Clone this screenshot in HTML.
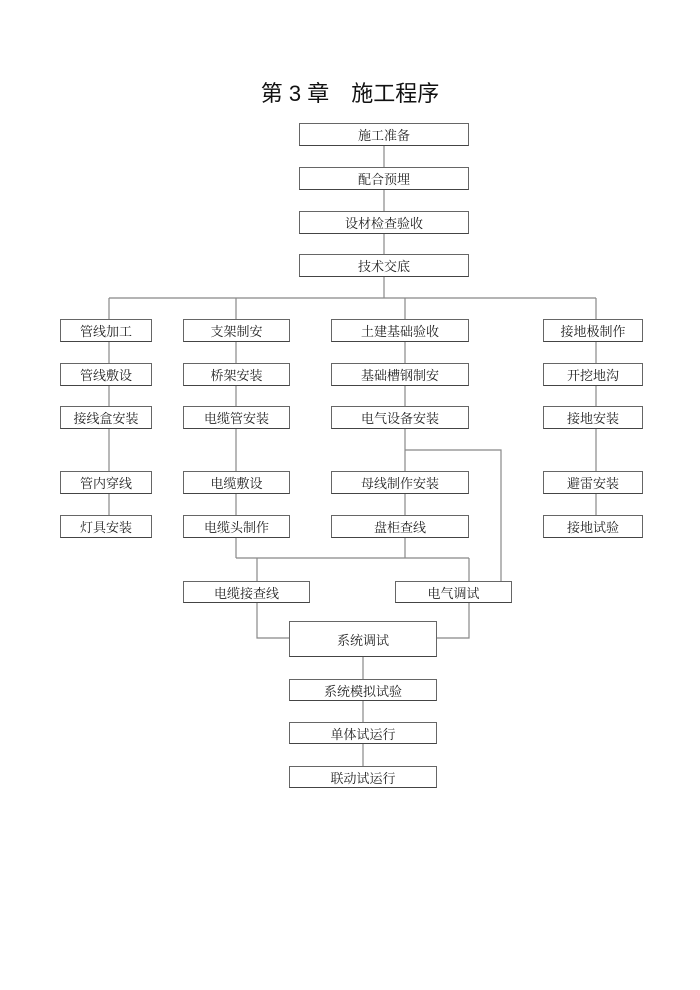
<!DOCTYPE html>
<html><head><meta charset="utf-8"><style>
body{margin:0;background:#fff;width:700px;height:990px;position:relative;font-family:"Liberation Serif","Noto Serif CJK SC",serif;}
.b{position:absolute;box-sizing:border-box;border:1px solid #666;border-bottom:1.5px solid #444;background:#fff;font-size:13px;color:#222;display:flex;align-items:center;justify-content:center;}
svg{position:absolute;left:0;top:0}
.t{position:absolute;left:0;width:700px;top:76px;text-align:center;font-family:"Liberation Sans","Noto Sans CJK SC",sans-serif;font-size:22px;color:#111;}
</style></head><body>
<div class="t">第 3 章　施工程序</div>
<svg width="700" height="990"><g stroke="#888" stroke-width="1.2" fill="none">
<line x1="384" y1="145" x2="384" y2="298"/>
<line x1="109" y1="298" x2="596" y2="298"/>
<line x1="109" y1="298" x2="109" y2="537"/>
<line x1="236" y1="298" x2="236" y2="558"/>
<line x1="405" y1="298" x2="405" y2="558"/>
<line x1="596" y1="298" x2="596" y2="537"/>
<polyline points="405,450 501,450 501,581"/>
<line x1="236" y1="558" x2="469" y2="558"/>
<line x1="257" y1="558" x2="257" y2="581"/>
<line x1="469" y1="558" x2="469" y2="581"/>
<polyline points="257,602 257,638 289,638"/>
<polyline points="469,602 469,638 437,638"/>
<line x1="363" y1="657" x2="363" y2="766"/>
</g></svg>
<div class="b" style="left:299px;top:123px;width:170px;height:23px">施工准备</div>
<div class="b" style="left:299px;top:167px;width:170px;height:23px">配合预埋</div>
<div class="b" style="left:299px;top:211px;width:170px;height:23px">设材检查验收</div>
<div class="b" style="left:299px;top:254px;width:170px;height:23px">技术交底</div>

<div class="b" style="left:60px;top:319px;width:92px;height:23px">管线加工</div>
<div class="b" style="left:60px;top:363px;width:92px;height:23px">管线敷设</div>
<div class="b" style="left:60px;top:406px;width:92px;height:23px">接线盒安装</div>
<div class="b" style="left:60px;top:471px;width:92px;height:23px">管内穿线</div>
<div class="b" style="left:60px;top:515px;width:92px;height:23px">灯具安装</div>

<div class="b" style="left:183px;top:319px;width:107px;height:23px">支架制安</div>
<div class="b" style="left:183px;top:363px;width:107px;height:23px">桥架安装</div>
<div class="b" style="left:183px;top:406px;width:107px;height:23px">电缆管安装</div>
<div class="b" style="left:183px;top:471px;width:107px;height:23px">电缆敷设</div>
<div class="b" style="left:183px;top:515px;width:107px;height:23px">电缆头制作</div>

<div class="b" style="left:331px;top:319px;width:138px;height:23px">土建基础验收</div>
<div class="b" style="left:331px;top:363px;width:138px;height:23px">基础槽钢制安</div>
<div class="b" style="left:331px;top:406px;width:138px;height:23px">电气设备安装</div>
<div class="b" style="left:331px;top:471px;width:138px;height:23px">母线制作安装</div>
<div class="b" style="left:331px;top:515px;width:138px;height:23px">盘柜查线</div>

<div class="b" style="left:543px;top:319px;width:100px;height:23px">接地极制作</div>
<div class="b" style="left:543px;top:363px;width:100px;height:23px">开挖地沟</div>
<div class="b" style="left:543px;top:406px;width:100px;height:23px">接地安装</div>
<div class="b" style="left:543px;top:471px;width:100px;height:23px">避雷安装</div>
<div class="b" style="left:543px;top:515px;width:100px;height:23px">接地试验</div>

<div class="b" style="left:183px;top:581px;width:127px;height:22px">电缆接查线</div>
<div class="b" style="left:395px;top:581px;width:117px;height:22px">电气调试</div>
<div class="b" style="left:289px;top:621px;width:148px;height:36px">系统调试</div>
<div class="b" style="left:289px;top:679px;width:148px;height:22px">系统模拟试验</div>
<div class="b" style="left:289px;top:722px;width:148px;height:22px">单体试运行</div>
<div class="b" style="left:289px;top:766px;width:148px;height:22px">联动试运行</div>
</body></html>
